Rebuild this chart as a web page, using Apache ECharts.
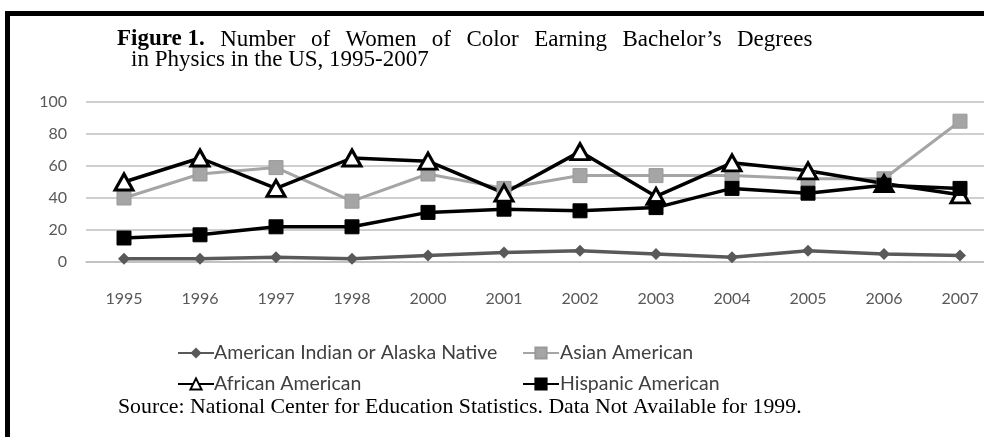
<!DOCTYPE html>
<html>
<head>
<meta charset="utf-8">
<script src="https://cdn.jsdelivr.net/npm/echarts@6/dist/echarts.min.js"></script>
<style>
html,body{margin:0;padding:0;background:#fff;overflow:hidden;width:984px;height:437px;}
#chart{width:1000px;height:437px;}
</style>
</head>
<body>
<div id="chart"></div>
<script>
const categories = ['1995','1996','1997','1998','2000','2001','2002','2003','2004','2005','2006','2007'];
const americanIndian = [2,2,3,2,4,6,7,5,3,7,5,4];
const asianAmerican = [40,55,59,38,55,46,54,54,54,52,52,88];
const africanAmerican = [50,65,46,65,63,43,69,41,62,57,49,42];
const hispanicAmerican = [15,17,22,22,31,33,32,34,46,43,48,46];
const yTicks = {min:0, max:100, interval:20};
const seriesNames = ['American Indian or Alaska Native','Asian American','African American','Hispanic American'];
const titleWords = ['Number','of','Women','of','Color','Earning','Bachelor’s','Degrees'];
const titleLine2 = 'in Physics in the US, 1995-2007';
const sourceText = 'Source: National Center for Education Statistics. Data Not Available for 1999.';

const chart = echarts.init(document.getElementById('chart'));
const serif = '"Liberation Serif","Times New Roman",serif';
const sans = 'Lato, "Open Sans", sans-serif';

let line1 = '{b|Figure 1.}';
titleWords.forEach(w => { line1 += '{s| }{r|' + w + '}'; });

const option = {
  backgroundColor:'#fff',
  animation:false,
  title:[
    {text: line1, left:117, top:28, padding:0,
     textStyle:{fontWeight:'normal', rich:{
       b:{fontFamily:serif,fontWeight:'bold',fontSize:23,color:'#000'},
       r:{fontFamily:serif,fontWeight:'normal',fontSize:23,color:'#000'},
       s:{fontFamily:serif,fontWeight:'normal',fontSize:23,width:15.4}
     }}},
    {text: titleLine2, left:131, top:48, padding:0,
     textStyle:{fontFamily:serif,fontWeight:'normal',fontSize:23,color:'#000'}},
    {text: sourceText, left:118, top:396, padding:0,
     textStyle:{fontFamily:serif,fontWeight:'normal',fontSize:21.8,color:'#000'}}
  ],
  graphic:[
    {type:'rect', shape:{x:5,y:11,width:1000,height:5}, style:{fill:'#000'}},
    {type:'rect', shape:{x:5,y:11,width:5,height:440}, style:{fill:'#000'}}
  ],
  legend:[
    {data:[seriesNames[0],seriesNames[2]], orient:'vertical', left:177, top:341, padding:0,
     itemWidth:36, itemHeight:14, itemGap:7,
     textStyle:{fontFamily:sans,fontSize:19.5,lineHeight:24,color:'#404040',padding:[0,0,0,-5]}},
    {data:[seriesNames[1],seriesNames[3]], orient:'vertical', left:522, top:341, padding:0,
     itemWidth:36, itemHeight:14, itemGap:7,
     textStyle:{fontFamily:sans,fontSize:19.5,lineHeight:24,color:'#404040',padding:[0,0,0,-4]}}
  ],
  grid:{left:86, top:102, width:912, height:160, outerBoundsMode:'none'},
  xAxis:{type:'category', data:categories, boundaryGap:true,
    axisLine:{lineStyle:{color:'#bfbfbf',width:1.5}}, axisTick:{show:false},
    axisLabel:{fontFamily:sans,fontSize:16,color:'#595959',margin:29}},
  yAxis:{type:'value', min:yTicks.min, max:yTicks.max, interval:yTicks.interval,
    axisLine:{show:false}, axisTick:{show:false},
    axisLabel:{fontFamily:sans,fontSize:16,color:'#595959',margin:19},
    splitLine:{lineStyle:{color:'#bfbfbf',width:1.5}}},
  series:[
    {name:seriesNames[0], type:'line', data:americanIndian, symbol:'diamond', symbolSize:12,
     lineStyle:{color:'#595959',width:3.5}, itemStyle:{color:'#595959'}},
    {name:seriesNames[1], type:'line', data:asianAmerican, symbol:'rect', symbolSize:14,
     lineStyle:{color:'#a5a5a5',width:3}, itemStyle:{color:'#a5a5a5',borderColor:'#999',borderWidth:1}},
    {name:seriesNames[2], type:'line', data:africanAmerican, symbol:'triangle', symbolSize:[18,16],
     lineStyle:{color:'#000',width:3.5}, itemStyle:{color:'#fff',borderColor:'#000',borderWidth:3}},
    {name:seriesNames[3], type:'line', data:hispanicAmerican, symbol:'rect', symbolSize:14,
     lineStyle:{color:'#000',width:3.5}, itemStyle:{color:'#000',borderColor:'#000',borderWidth:1}}
  ]
};
chart.setOption(option);
</script>
</body>
</html>
